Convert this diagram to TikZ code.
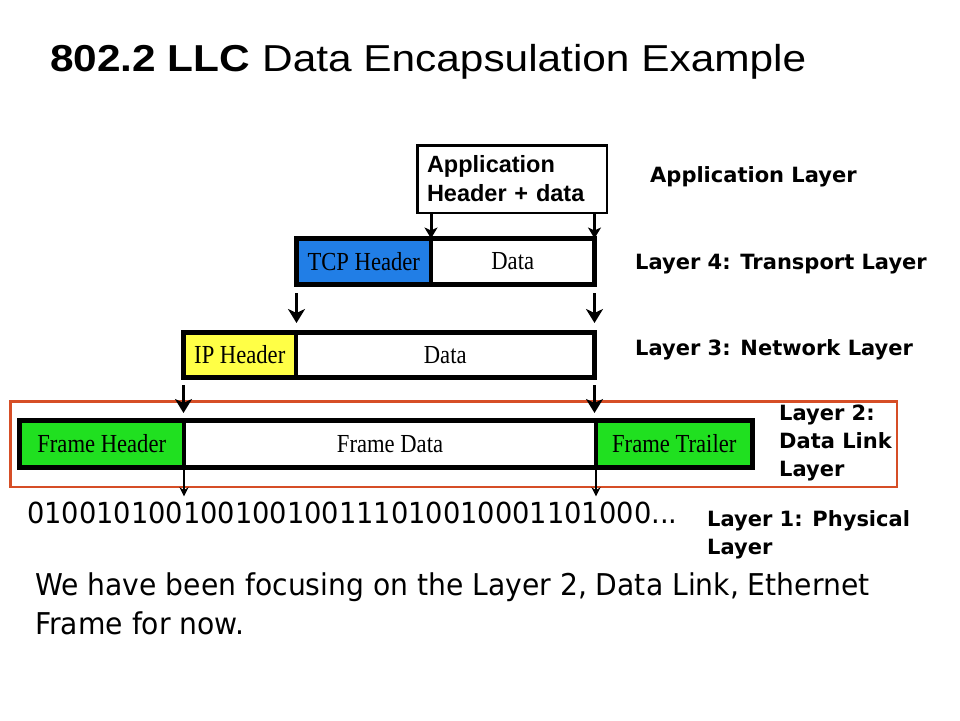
\documentclass[tikz,border=0pt]{standalone}
\usepackage{fontspec}
\setmainfont{Liberation Sans}
\newfontfamily\titlefont[FakeStretch=1.13]{Liberation Sans}
\newfontfamily\appfont{Liberation Sans}
\newfontfamily\labfont{DejaVu Sans}
\newfontfamily\bodyfont[FakeStretch=0.94]{DejaVu Sans}
\newfontfamily\bitsfont[FakeStretch=0.94]{DejaVu Sans}
\newfontfamily\boxfont[FakeStretch=0.87]{Liberation Serif}
\usetikzlibrary{arrows.meta}
\definecolor{tcpblue}{RGB}{33,126,230}
\definecolor{ipyellow}{RGB}{255,255,70}
\definecolor{framegreen}{RGB}{32,224,32}
\definecolor{l2orange}{RGB}{214,78,38}
\begin{document}
\begin{tikzpicture}[x=1pt,y=-1pt,
  field/.style={draw=black, line width=3.5, inner sep=0, outer sep=0, anchor=north west,
    font=\boxfont\fontsize{26}{30}\selectfont},
  frameline/.style={line width=5, line join=miter},
  bigarrow/.style={line width=3.5, -{Stealth[length=14, width=17, inset=4]}},
  apparrow/.style={line width=3, -{Stealth[length=11, width=13, inset=3]}},
  thinarrow/.style={line width=2, -{Stealth[length=9, width=9]}},
  lab/.style={anchor=base west, inner sep=0, font=\labfont\bfseries\fontsize{21}{28}\selectfont},
]
\useasboundingbox (0,0) rectangle (960,720);
\fill[white] (0,0) rectangle (960,720);

% title
\node[anchor=base west, inner sep=0, font=\titlefont\fontsize{37.5}{44}\selectfont] (title) at (50,71)
  {\textbf{802.2 LLC} Data Encapsulation Example};

% application box
\node[draw, line width=2.5, anchor=north west, minimum width=189.5, minimum height=67.5,
  text width=170, inner xsep=9.5, inner ysep=0, outer sep=0, align=left,
  font=\appfont\bfseries\fontsize{23.5}{29}\selectfont] (app) at (417.25,145.25)
  {Application\\Header + data};

% TCP segment
\node[field, fill=tcpblue, minimum width=134.5, minimum height=46] (tcph) at (296.5,238.5) {TCP Header};
\node[field, fill=white, minimum width=163.5, minimum height=46] (tcpd) at (tcph.north east) {Data};
\draw[frameline] (tcph.north west) rectangle (tcpd.south east);

% IP packet
\node[field, fill=ipyellow, minimum width=112.5, minimum height=45] (iph) at (183.5,332.5) {IP Header};
\node[field, fill=white, minimum width=298.5, minimum height=45] (ipd) at (iph.north east) {Data};
\draw[frameline] (iph.north west) rectangle (ipd.south east);

% layer 2 highlight
\draw[draw=l2orange, line width=2.5] (10.25,401.25) rectangle (896.75,486.75);

% frame
\node[field, fill=framegreen, minimum width=164.5, minimum height=47] (fh) at (19.5,420.5) {Frame Header};
\node[field, fill=white, minimum width=412, minimum height=47] (fd) at (fh.north east) {Frame Data};
\node[field, fill=framegreen, minimum width=156.5, minimum height=47] (ft) at (fd.north east) {Frame Trailer};
\draw[frameline] (fh.north west) rectangle (ft.south east);

% bits
\node[anchor=base west, inner sep=0, font=\bitsfont\fontsize{29}{34}\selectfont] (bits) at (27,523)
  {010010100100100100111010010001101000...};

% arrows
\draw[apparrow] (tcpd.north west |- app.south) -- (tcpd.north west);
\draw[apparrow] (tcpd.north east |- app.south) -- (tcpd.north east);
\draw[bigarrow, shorten <=8.5, shorten >=9.5] (tcph.south west) -- (tcph.south west |- iph.north);
\draw[bigarrow, shorten <=8.5, shorten >=9.5] (tcpd.south east) -- (tcpd.south east |- ipd.north);
\draw[bigarrow, shorten <=7.5, shorten >=7.5] (iph.south west) -- (iph.south west |- fh.north);
\draw[bigarrow, shorten <=7.5, shorten >=7.5] (ipd.south east) -- (ipd.south east |- fd.north);
\draw[thinarrow, shorten <=2.5, shorten >=5] (fd.south west) -- (fd.south west |- bits.north);
\draw[thinarrow, shorten <=2.5, shorten >=5] (fd.south east) -- (fd.south east |- bits.north);

% layer labels
\node[lab] (lapp) at (650,182) {Application Layer};
\node[lab] (l4) at (635,269) {Layer 4: Transport Layer};
\node[lab] (l3) at (635,355) {Layer 3: Network Layer};
\node[lab] (l2) at (779,420) {\begin{tabular}[t]{@{}l@{}}Layer 2:\\Data Link\\Layer\end{tabular}};
\node[lab] (l1) at (707,526) {\begin{tabular}[t]{@{}l@{}}Layer 1: Physical\\Layer\end{tabular}};

% bottom text
\node[anchor=base west, inner sep=0, font=\bodyfont\fontsize{30}{39}\selectfont] (note) at (35,595)
  {\begin{tabular}[t]{@{}l@{}}We have been focusing on the Layer 2, Data Link, Ethernet\\Frame for now.\end{tabular}};
\end{tikzpicture}
\end{document}
